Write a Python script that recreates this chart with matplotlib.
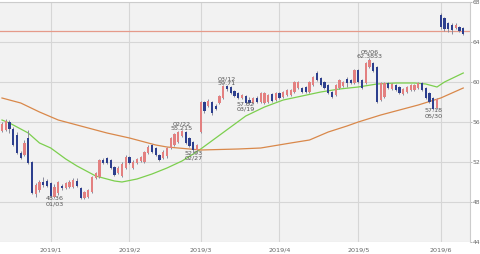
import matplotlib
matplotlib.use('Agg')
import matplotlib.pyplot as plt

# daily candles, index 0 = 2018/12/12
opens = [55.1, 55.2, 56.0, 55.3, 54.7, 52.9, 52.7, 54.4, 52.0, 48.8,
         49.2, 50.0, 50.1, 49.9, 48.5, 48.9, 49.6, 49.4, 49.5, 49.5,
         50.1, 49.4, 48.4, 48.5, 49.0, 50.4, 50.5, 52.2, 52.4, 52.2,
         51.5, 50.9, 50.6, 51.4, 52.5, 51.4, 51.9, 52.1, 52.0, 52.9,
         53.7, 53.4, 52.7, 52.4, 52.6, 53.4, 53.7, 54.0, 54.6, 55.0,
         54.4, 54.0, 53.2, 55.0, 58.0, 57.6, 58.0, 57.6, 57.9, 58.4,
         59.6, 59.5, 59.1, 58.9, 58.4, 58.6, 58.2, 57.9, 58.4, 58.0,
         57.9, 58.0, 58.8, 58.2, 58.9, 58.5, 58.7, 58.7, 59.0, 59.4,
         59.4, 59.5, 59.0, 59.7, 60.9, 60.4, 60.0, 59.7, 59.0, 58.7,
         59.4, 59.6, 60.3, 60.2, 59.9, 61.2, 60.2, 59.9, 61.5, 61.9,
         61.5, 58.2, 58.5, 59.9, 59.3, 59.7, 59.5, 58.8, 59.0, 59.2,
         59.2, 59.4, 59.9, 59.4, 58.9, 58.4, 57.4, 66.7, 66.4, 65.9,
         65.7, 65.4, 65.5, 65.4]
highs = [56.0, 56.3, 56.2, 55.5, 55.0, 53.1, 54.2, 55.2, 52.1, 49.9,
         50.2, 50.5, 50.3, 50.0, 49.8, 50.1, 49.8, 50.0, 50.2, 50.4,
         50.4, 49.5, 49.1, 49.3, 50.6, 51.0, 52.3, 52.4, 52.5, 52.3,
         51.6, 51.6, 52.0, 52.7, 52.6, 52.2, 52.4, 52.6, 53.1, 53.7,
         53.8, 53.5, 52.8, 53.2, 53.5, 54.5, 54.9, 55.1, 55.215, 55.1,
         54.5, 54.1, 53.8, 58.1, 58.1, 58.3, 58.1, 57.8, 58.7, 59.7,
         59.71, 59.6, 59.2, 59.0, 58.8, 58.7, 58.5, 58.5, 58.6, 59.0,
         59.0, 58.8, 58.9, 59.0, 59.0, 59.1, 59.3, 59.3, 60.1, 60.1,
         59.5, 59.6, 60.1, 60.6, 61.1, 60.5, 60.1, 59.8, 59.1, 59.8,
         60.3, 60.1, 60.5, 60.3, 61.3, 61.3, 60.3, 62.0, 62.3853, 62.0,
         61.6, 60.0, 60.0, 60.0, 59.9, 59.8, 59.6, 59.4, 59.6, 59.8,
         59.8, 60.0, 60.0, 59.5, 59.0, 58.5, 58.4, 66.9, 66.5, 66.0,
         65.9, 65.9, 65.6, 65.5]
lows = [55.0, 55.1, 54.9, 53.6, 52.8, 52.3, 52.6, 51.8, 48.8, 48.5,
        49.0, 49.5, 49.5, 48.5, 48.36, 48.7, 49.2, 49.3, 49.4, 49.4,
        49.5, 48.3, 48.3, 48.4, 48.9, 50.3, 50.4, 51.8, 51.8, 51.3,
        50.6, 50.8, 50.5, 51.3, 51.8, 51.3, 51.8, 52.0, 51.9, 52.8,
        52.9, 52.6, 52.1, 52.3, 52.4, 53.3, 53.6, 53.9, 54.5, 53.8,
        53.5, 52.93, 53.1, 54.9, 56.9, 57.5, 56.7, 57.2, 57.8, 58.3,
        59.1, 58.8, 58.5, 58.3, 58.3, 57.82, 57.85, 57.85, 57.9, 57.9,
        57.8, 57.9, 58.0, 58.1, 58.3, 58.4, 58.6, 58.6, 58.9, 59.3,
        58.9, 58.9, 58.9, 59.6, 60.1, 59.6, 59.3, 58.8, 58.4, 58.6,
        59.3, 59.5, 59.5, 59.8, 59.8, 59.9, 59.3, 59.8, 61.4, 61.0,
        57.9, 58.1, 58.4, 59.3, 59.2, 59.1, 58.8, 58.7, 58.9, 59.1,
        59.1, 59.3, 59.1, 58.3, 57.9, 57.18, 57.3, 65.3, 65.1, 65.0,
        64.8, 65.3, 65.0, 64.7]
closes = [55.8, 56.1, 55.3, 53.7, 52.9, 52.4, 53.9, 51.9, 48.9, 49.7,
          50.0, 49.7, 49.6, 48.6, 49.5, 50.0, 49.4, 49.9, 50.0, 50.2,
          49.6, 48.4, 49.0, 49.2, 50.5, 50.9, 52.2, 51.9, 51.9, 51.4,
          50.7, 51.4, 51.8, 52.5, 51.9, 52.0, 52.3, 52.5, 53.0, 53.5,
          53.0, 52.7, 52.2, 53.0, 53.4, 54.4, 54.8, 55.0, 55.1, 53.9,
          53.6, 53.2, 53.7, 58.0, 57.1, 58.1, 56.9, 57.3, 58.6, 59.6,
          59.3, 58.9, 58.6, 58.4, 58.7, 57.9, 57.9, 58.4, 58.0, 58.9,
          58.9, 58.7, 58.1, 58.9, 58.4, 59.0, 59.2, 59.2, 60.0, 60.0,
          59.0, 59.0, 60.0, 60.5, 60.2, 59.7, 59.4, 58.9, 58.5, 59.7,
          60.2, 60.0, 59.9, 59.9, 61.2, 60.0, 59.4, 61.9, 62.2, 61.1,
          58.0, 59.9, 59.9, 59.4, 59.8, 59.2, 58.9, 59.3, 59.5, 59.7,
          59.7, 59.9, 59.2, 58.4, 58.0, 57.3, 58.3, 65.5, 65.3, 65.3,
          65.2, 65.7, 65.1, 64.8]

# moving averages (index, value)
ma_short_x = [0, 2, 7, 10, 13, 17, 20, 25, 30, 32, 36, 40, 44, 48, 51, 53,
              57, 61, 65, 70, 75, 80, 85, 90, 95, 100, 105, 110, 113, 116, 118, 123]
ma_short_y = [56.2, 55.9, 54.9, 53.9, 53.4, 52.3, 51.6, 50.6, 50.1, 50.0, 50.3,
              50.8, 51.4, 52.1, 52.8, 53.3, 54.4, 55.5, 56.6, 57.5, 58.2, 58.6,
              59.0, 59.3, 59.5, 59.8, 59.9, 59.9, 59.8, 59.5, 60.0, 60.9]
ma_long_x = [0, 5, 10, 15, 21, 28, 34, 41, 44, 53, 63, 69, 77, 82, 87, 92,
             95, 101, 106, 111, 117, 123]
ma_long_y = [58.4, 57.9, 57.0, 56.2, 55.6, 54.9, 54.4, 53.7, 53.5, 53.2, 53.3,
             53.4, 53.9, 54.2, 55.0, 55.6, 56.0, 56.7, 57.2, 57.7, 58.4, 59.4]

ref_price = 65.15

month_pos = [13, 34, 53, 74, 95, 117]
month_labels = ['2019/1', '2019/2', '2019/3', '2019/4', '2019/5', '2019/6']

# (index, value, value text, date, high/low)
marks = [(14, 48.36, '48.36', '01/03', 'low'),
         (48, 55.215, '55.215', '02/22', 'high'),
         (51, 52.93, '52.93', '02/27', 'low'),
         (60, 59.71, '59.71', '03/12', 'high'),
         (65, 57.82, '57.82', '03/19', 'low'),
         (98, 62.3853, '62.3853', '05/06', 'high'),
         (115, 57.18, '57.18', '05/30', 'low')]

up_col = '#e38080'
down_col = '#2d3f8e'

fig = plt.figure(figsize=(4.8, 2.54), dpi=100)
ax = fig.add_axes([0, 12 / 254, 470 / 480, 240 / 254])
ax.set_facecolor('#f2f2f2')

for i in range(len(opens)):
    o, h, l, c = opens[i], highs[i], lows[i], closes[i]
    col = up_col if c >= o else down_col
    ax.vlines(i, l, h, color='#8a8a9a', lw=0.7, zorder=3)
    bot = min(o, c)
    ht = max(abs(c - o), 0.06)
    ax.bar(i, ht, bottom=bot, width=0.6, color=col, lw=0, zorder=4)

ax.plot(ma_short_x, ma_short_y, color='#7ccf4e', lw=0.9, zorder=2)
ax.plot(ma_long_x, ma_long_y, color='#d9884a', lw=0.9, zorder=2)
ax.axhline(ref_price, color='#e59a8a', lw=0.9, zorder=1)

for i, v, vt, d, kind in marks:
    if kind == 'high':
        ax.annotate(d + '\n' + vt, (i, v), xytext=(0, -1), textcoords='offset pixels',
                    ha='center', va='bottom', fontsize=4.6, color='#555555',
                    linespacing=0.95, zorder=5)
    else:
        ax.annotate(vt + '\n' + d, (i, v), xytext=(0, 2), textcoords='offset pixels',
                    ha='center', va='top', fontsize=4.6, color='#555555',
                    linespacing=0.95, zorder=5)

ax.set_xlim(-0.53, 124.8)
ax.set_ylim(44, 68)
ax.set_yticks([44, 48, 52, 56, 60, 64, 68])
ax.set_xticks(month_pos)
ax.set_xticklabels(month_labels)
ax.yaxis.tick_right()
ax.tick_params(axis='y', length=1.5, width=0.6, color='#aaaaaa', labelsize=4.3,
               labelcolor='#666666', pad=0.5)
ax.tick_params(axis='x', length=0, labelsize=4.6, labelcolor='#666666', pad=4)
ax.grid(True, color='#d6d6d6', lw=0.8, zorder=0)
ax.set_axisbelow(True)
for s in ['left', 'bottom']:
    ax.spines[s].set_visible(False)
for s in ['top', 'right']:
    ax.spines[s].set_color('#cccccc')
    ax.spines[s].set_linewidth(0.8)

fig.savefig('out.png', dpi=100, facecolor='white')
